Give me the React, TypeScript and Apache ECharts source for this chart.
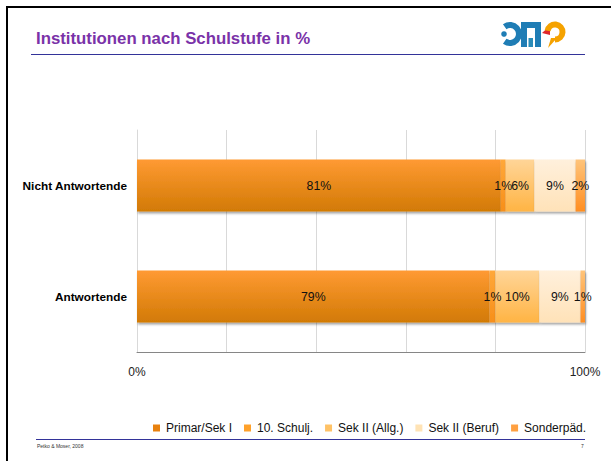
import React, { useEffect, useRef } from "react";
import * as echarts from "echarts";

const categories = ["Antwortende", "Nicht Antwortende"];
const seriesNames = ["Primar/Sek I", "10. Schulj.", "Sek II (Allg.)", "Sek II (Beruf)", "Sonderpäd."];
// shares in % per series: [Antwortende, Nicht Antwortende] (labels show rounded values)
const primar = [78.7, 81.2];
const schulj10 = [1.3, 1.1];
const sekAllg = [9.8, 6.4];
const sekBeruf = [9.2, 9.2];
const sonder = [1.0, 2.1];
const xTickLabels = ["0%", "100%"];

const seriesValues = [primar, schulj10, sekAllg, sekBeruf, sonder];
const gradients: [string, string][] = [
  ["#FF9A33", "#D27A05"],
  ["#FFA83A", "#F78F1A"],
  ["#FFD598", "#FFB444"],
  ["#FFF0DC", "#FFE2B8"],
  ["#FFC47A", "#FF8E22"],
];
const legendColors = ["#E8810E", "#FFA12A", "#FFC266", "#FFE3B5", "#FFA040"];

export default function App() {
  const ref = useRef<HTMLDivElement>(null);
  useEffect(() => {
    document.body.style.margin = "0";
    const chart = echarts.init(ref.current!, undefined, { renderer: "svg" });
    const series = seriesNames.map((name, si) => ({
      name,
      type: "bar",
      stack: "total",
      barWidth: 52,
      data: seriesValues[si],
      itemStyle: {
        color: new echarts.graphic.LinearGradient(0, 0, 0, 1, [
          { offset: 0, color: gradients[si][0] },
          { offset: 1, color: gradients[si][1] },
        ]),
        shadowColor: "rgba(0,0,0,0.35)",
        shadowOffsetY: 2,
        shadowOffsetX: 1,
        shadowBlur: 2,
      },
      label: {
        show: true,
        position: "inside",
        color: "#111",
        fontSize: 12.3,
        fontFamily: "Liberation Sans, Arial, sans-serif",
        formatter: (p: any) => Math.round(p.value) + "%",
      },
    }));
    chart.setOption({
      animation: false,
      textStyle: { fontFamily: "Liberation Sans, Arial, sans-serif" },
      grid: { left: 137, right: 26, top: 130, bottom: 109, containLabel: false },
      legend: {
        left: 148,
        top: 417,
        itemWidth: 7,
        itemHeight: 7,
        itemGap: 12,
        icon: "rect",
        textStyle: { fontSize: 12, color: "#111", padding: [0, 0, 0, 1] },
        data: seriesNames.map((n, i) => ({ name: n, itemStyle: { color: legendColors[i] } })),
      },
      xAxis: {
        type: "value",
        min: 0,
        max: 100,
        interval: 20,
        axisLine: { show: true, lineStyle: { color: "#868686" } },
        axisTick: { show: false },
        splitLine: { show: true, lineStyle: { color: "#D9D9D9" } },
        axisLabel: {
          margin: 14,
          fontSize: 12,
          color: "#222",
          formatter: (v: number) => (v === 0 ? xTickLabels[0] : v === 100 ? xTickLabels[1] : ""),
        },
      },
      yAxis: {
        type: "category",
        data: categories,
        axisLine: { show: true, lineStyle: { color: "#D9D9D9" } },
        axisTick: { show: false },
        axisLabel: { fontSize: 11.8, fontWeight: "bold", color: "#000", margin: 10 },
      },
      series,
      graphic: [
        { type: "line", shape: { x1: 6, y1: 7, x2: 611, y2: 7 }, style: { stroke: "#000", lineWidth: 2 } },
        { type: "line", shape: { x1: 7, y1: 6, x2: 7, y2: 461 }, style: { stroke: "#000", lineWidth: 2 } },
        {
          type: "text",
          left: 36,
          top: 30,
          style: {
            text: "Institutionen nach Schulstufe in %",
            fill: "#7A32A8",
            font: "bold 16.8px 'Liberation Sans', Arial, sans-serif",
          },
        },
        { type: "line", shape: { x1: 31, y1: 54.5, x2: 585, y2: 54.5 }, style: { stroke: "#333399", lineWidth: 1 } },
        { type: "line", shape: { x1: 36, y1: 439.5, x2: 585, y2: 439.5 }, style: { stroke: "#333399", lineWidth: 1 } },
        {
          type: "text",
          left: 37,
          top: 443,
          style: { text: "Petko & Moser, 2008", fill: "#333", font: "5px 'Liberation Sans', Arial, sans-serif" },
        },
        {
          type: "text",
          left: 581,
          top: 443,
          style: { text: "7", fill: "#333", font: "5px 'Liberation Sans', Arial, sans-serif" },
        },
        // logo
        { type: "circle", shape: { cx: 504, cy: 34, r: 2.8 }, style: { fill: "#1F7DB5" } },
        {
          type: "arc",
          shape: { cx: 510, cy: 34, r: 9, startAngle: -Math.PI * 0.7, endAngle: Math.PI * 0.7 },
          style: { stroke: "#1F7DB5", lineWidth: 6, fill: "none" },
        },
        { type: "rect", shape: { x: 521, y: 22, width: 20, height: 6 }, style: { fill: "#1F7DB5" } },
        { type: "rect", shape: { x: 521, y: 22, width: 6, height: 25 }, style: { fill: "#1F7DB5" } },
        { type: "rect", shape: { x: 535, y: 22, width: 6, height: 25 }, style: { fill: "#1F7DB5" } },
        { type: "rect", shape: { x: 528.5, y: 38, width: 4.5, height: 9 }, style: { fill: "#2A8CB8" } },
        { type: "polygon", shape: { points: [[542, 33], [550, 26], [550, 35]] }, style: { fill: "#E0262B" } },
        {
          type: "arc",
          shape: { cx: 555, cy: 32, r: 7.5, startAngle: -Math.PI * 0.95, endAngle: Math.PI * 0.5 },
          style: { stroke: "#F5A200", lineWidth: 6, fill: "none" },
        },
        { type: "polygon", shape: { points: [[551, 38], [557, 38], [548, 48]] }, style: { fill: "#F5A200" } },
      ],
    });
    return () => chart.dispose();
  }, []);
  return <div ref={ref} style={{ width: 611, height: 461 }} />;
}
